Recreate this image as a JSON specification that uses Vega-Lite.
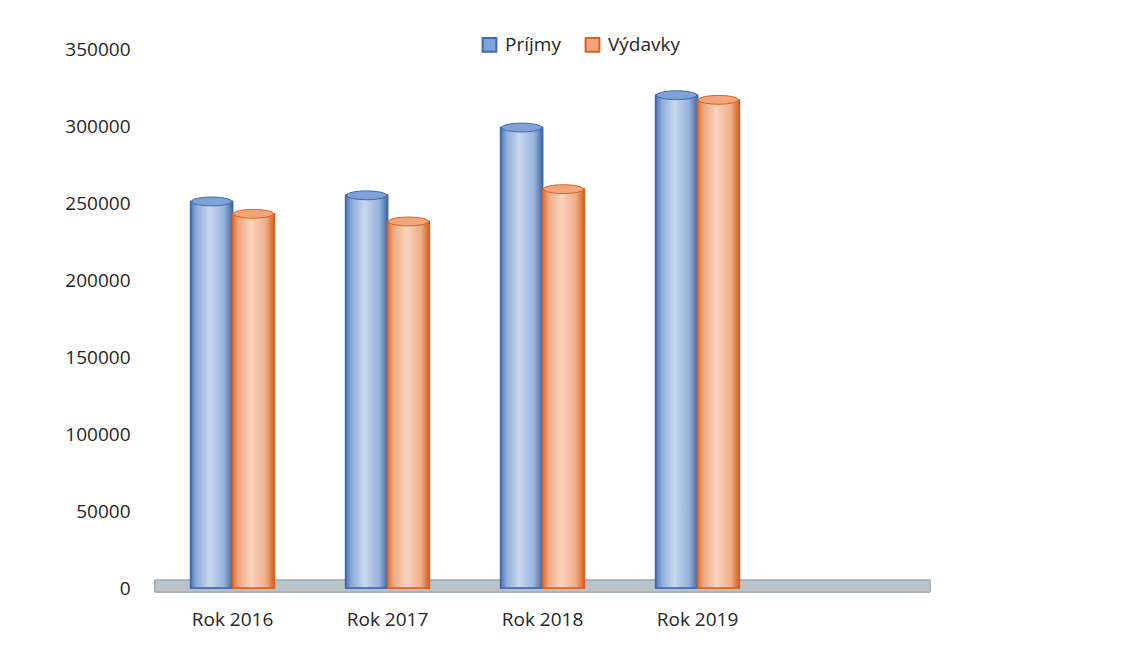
{
  "$schema": "https://vega.github.io/schema/vega-lite/v6.json",
  "width": 775,
  "height": 539,
  "autosize": {"type": "none"},
  "padding": {"left": 155, "top": 49, "right": 201, "bottom": 64},
  "background": "white",
  "config": {
    "font": "Open Sans",
    "view": {"stroke": null},
    "axis": {"domain": false, "ticks": false, "grid": false, "labelColor": "#262626", "labelFont": "Open Sans"}
  },
  "data": {
    "values": [
      {"rok": "Rok 2016", "typ": "Príjmy", "hodnota": 251000},
      {"rok": "Rok 2016", "typ": "Výdavky", "hodnota": 243000},
      {"rok": "Rok 2017", "typ": "Príjmy", "hodnota": 255000},
      {"rok": "Rok 2017", "typ": "Výdavky", "hodnota": 238000},
      {"rok": "Rok 2018", "typ": "Príjmy", "hodnota": 299000},
      {"rok": "Rok 2018", "typ": "Výdavky", "hodnota": 259000},
      {"rok": "Rok 2019", "typ": "Príjmy", "hodnota": 320000},
      {"rok": "Rok 2019", "typ": "Výdavky", "hodnota": 317000}
    ]
  },
  "encoding": {
    "x": {
      "field": "rok", "type": "nominal",
      "scale": {"domain": ["Rok 2016", "Rok 2017", "Rok 2018", "Rok 2019", " "], "paddingInner": 0.46, "paddingOuter": 0.23},
      "axis": {"title": null, "labelAngle": 0, "labelFontSize": 19, "labelPadding": 22}
    },
    "xOffset": {"field": "typ", "type": "nominal", "scale": {"domain": ["Príjmy", "Výdavky"], "paddingInner": 0, "paddingOuter": 0}}
  },
  "layer": [
    {
      "mark": {"type": "rect", "color": "#b9c3c9", "stroke": "#a3aeb5", "strokeWidth": 1},
      "encoding": {
        "x": null,
        "xOffset": null,
        "y": {"datum": -2500, "type": "quantitative"},
        "y2": {"datum": 5000}
      }
    },
    {
      "mark": {"type": "bar", "strokeWidth": 1.5},
      "encoding": {
        "y": {
          "field": "hodnota", "type": "quantitative",
          "scale": {"domain": [0, 350000], "nice": false, "zero": true},
          "axis": {"title": null, "values": [0, 50000, 100000, 150000, 200000, 250000, 300000, 350000], "format": "d", "labelFontSize": 19, "labelPadding": 25}
        },
        "color": {
          "field": "typ", "type": "nominal",
          "scale": {"domain": ["Príjmy", "Výdavky"], "range": ["#7fa2d8", "#f3a579"]},
          "legend": {
            "title": null, "orient": "none", "legendX": 325, "legendY": -14, "direction": "horizontal",
            "symbolType": "square", "symbolSize": 190, "symbolStrokeWidth": 2,
            "labelFontSize": 19, "labelColor": "#262626", "columnPadding": 20, "labelOffset": 6
          }
        },
        "stroke": {
          "field": "typ", "type": "nominal",
          "scale": {"domain": ["Príjmy", "Výdavky"], "range": ["#3e68ad", "#d9601f"]},
          "legend": null
        }
      }
    },
    {
      "transform": [{"filter": "datum.typ === 'Príjmy'"}],
      "mark": {
        "type": "bar", "stroke": "#3e68ad", "strokeWidth": 1.5,
        "fill": {
          "gradient": "linear", "x1": 0, "y1": 0, "x2": 1, "y2": 0,
          "stops": [
            {"offset": 0, "color": "#4f76b6"},
            {"offset": 0.15, "color": "#8fadda"},
            {"offset": 0.45, "color": "#c8d7ee"},
            {"offset": 0.8, "color": "#96b2dc"},
            {"offset": 1, "color": "#45699f"}
          ]
        }
      },
      "encoding": {"y": {"field": "hodnota", "type": "quantitative"}}
    },
    {
      "transform": [{"filter": "datum.typ === 'Výdavky'"}],
      "mark": {
        "type": "bar", "stroke": "#d9601f", "strokeWidth": 1.5,
        "fill": {
          "gradient": "linear", "x1": 0, "y1": 0, "x2": 1, "y2": 0,
          "stops": [
            {"offset": 0, "color": "#dc6e33"},
            {"offset": 0.15, "color": "#efaa82"},
            {"offset": 0.45, "color": "#f8d4bd"},
            {"offset": 0.8, "color": "#f0ad87"},
            {"offset": 1, "color": "#d25f22"}
          ]
        }
      },
      "encoding": {"y": {"field": "hodnota", "type": "quantitative"}}
    },
    {
      "mark": {"type": "point", "filled": true, "size": 1600, "shape": "M-1,0A1,0.22,0,1,0,1,0A1,0.22,0,1,0,-1,0Z", "opacity": 1, "strokeWidth": 1},
      "encoding": {
        "y": {"field": "hodnota", "type": "quantitative"},
        "color": {"field": "typ", "type": "nominal", "scale": {"domain": ["Príjmy", "Výdavky"], "range": ["#7fa2d8", "#f3a579"]}, "legend": null},
        "stroke": {"field": "typ", "type": "nominal", "scale": {"domain": ["Príjmy", "Výdavky"], "range": ["#3e68ad", "#d9601f"]}, "legend": null}
      }
    }
  ]
}
